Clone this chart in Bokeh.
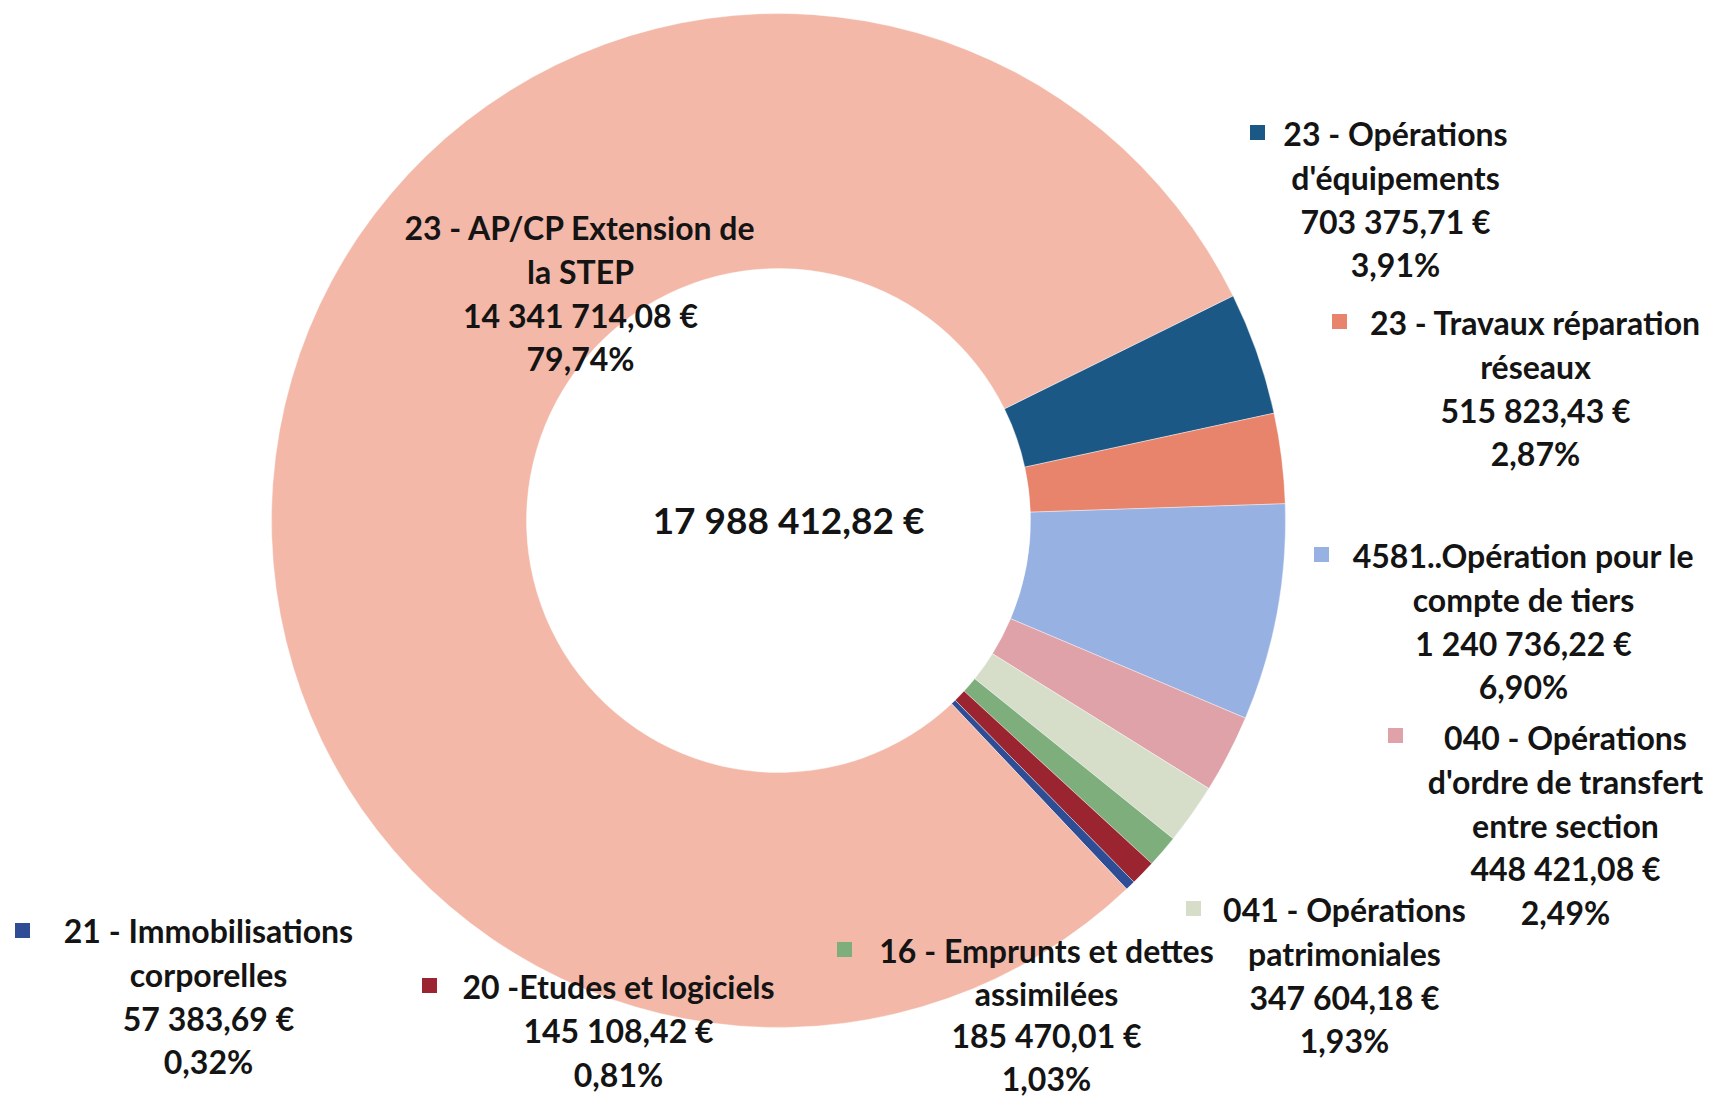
import math
from bokeh.plotting import figure
from bokeh.models import Range1d, ColumnDataSource
from bokeh.embed import file_html
from bokeh.resources import INLINE
from bokeh.core.properties import value

# ---- data (clockwise order starting at the dark-blue slice) ----
categories = [
    "23 - Opérations\nd'équipements",
    "23 - Travaux réparation\nréseaux",
    "4581..Opération pour le\ncompte de tiers",
    "040 - Opérations\nd'ordre de transfert\nentre section",
    "041 - Opérations\npatrimoniales",
    "16 - Emprunts et dettes\nassimilées",
    "20 -Etudes et logiciels",
    "21 - Immobilisations\ncorporelles",
    "23 - AP/CP Extension de\nla STEP",
]
amounts = [703375.71, 515823.43, 1240736.22, 448421.08, 347604.18,
           185470.01, 145108.42, 57383.69, 14341714.08]
percent_labels = ["3,91%", "2,87%", "6,90%", "2,49%", "1,93%",
                  "1,03%", "0,81%", "0,32%", "79,74%"]
total_amount = 17988412.82
colors = ["#1B5886", "#E8846B", "#97B1E2", "#DFA2A8", "#D6DECA",
          "#7DAE7B", "#9A2430", "#2F4D95", "#F3B8A8"]
show_key = [True, True, True, True, True, True, True, True, False]

# ---- layout (image pixel coordinates) ----
OFF = 0
W, H = 1708, 1100
def Y(y):
    return -y

cx, cy = 778, 520
r_out, r_in = 507, 252
start_deg = 26.3

label_cx = [1395, 1535, 1523, 1565, 1344, 1046, 618, 208, 580]
label_y0 = [133, 322, 555, 737, 909, 950, 986, 930, 227]
key_pos = [(1257, 132), (1339, 321), (1321, 554), (1395, 735), (1193, 908),
           (844, 949), (429, 985), (22, 930), None]
line_gap = [43.8, 43.8, 43.8, 43.8, 43.8, 42.5, 43.8, 43.8, 43.8]

def fr(v):
    s = f"{v:,.2f}"
    return s.replace(",", " ").replace(".", ",") + " €"

p = figure(width=W, height=H, output_backend="svg", toolbar_location=None,
           x_range=Range1d(OFF, OFF + W), y_range=Range1d(-(OFF + H), -OFF),
           min_border=0, outline_line_color=None)
p.axis.visible = False
p.grid.visible = False
p.background_fill_color = "white"

tot = sum(amounts)
a0 = math.radians(start_deg)
starts, ends = [], []
cum = 0.0
for a in amounts:
    f0 = cum / tot
    cum += a
    f1 = cum / tot
    starts.append(a0 - f1 * 2 * math.pi)
    ends.append(a0 - f0 * 2 * math.pi)

src = ColumnDataSource(dict(x=[cx] * len(amounts), y=[Y(cy)] * len(amounts),
                            start=starts, end=ends, color=colors))
p.annular_wedge(x="x", y="y", inner_radius=r_in, outer_radius=r_out,
                start_angle="start", end_angle="end", fill_color="color",
                line_color="white", line_width=0.8, line_alpha=0.5, source=src)

tx, ty, tt = [], [], []
for i, cat in enumerate(categories):
    lines = cat.split("\n") + [fr(amounts[i]), percent_labels[i]]
    for k, ln in enumerate(lines):
        tx.append(label_cx[i])
        ty.append(Y(label_y0[i] + k * line_gap[i]))
        tt.append(ln)
p.text(x=tx, y=ty, text=tt, text_align="center", text_baseline="middle",
       text_font=value("Lato"), text_font_style="bold", text_font_size="32px",
       text_color="#141414")

kx = [key_pos[i][0] for i in range(len(amounts)) if show_key[i]]
ky = [Y(key_pos[i][1]) for i in range(len(amounts)) if show_key[i]]
kc = [colors[i] for i in range(len(amounts)) if show_key[i]]
p.scatter(x=kx, y=ky, marker="square", size=15, fill_color=kc, line_color=None)

p.text(x=[788], y=[Y(519)], text=[fr(total_amount)], text_align="center",
       text_baseline="middle", text_font=value("Lato"), text_font_style="bold",
       text_font_size="37px", text_color="#141414")

open("out.html", "w").write(file_html(p, INLINE))
